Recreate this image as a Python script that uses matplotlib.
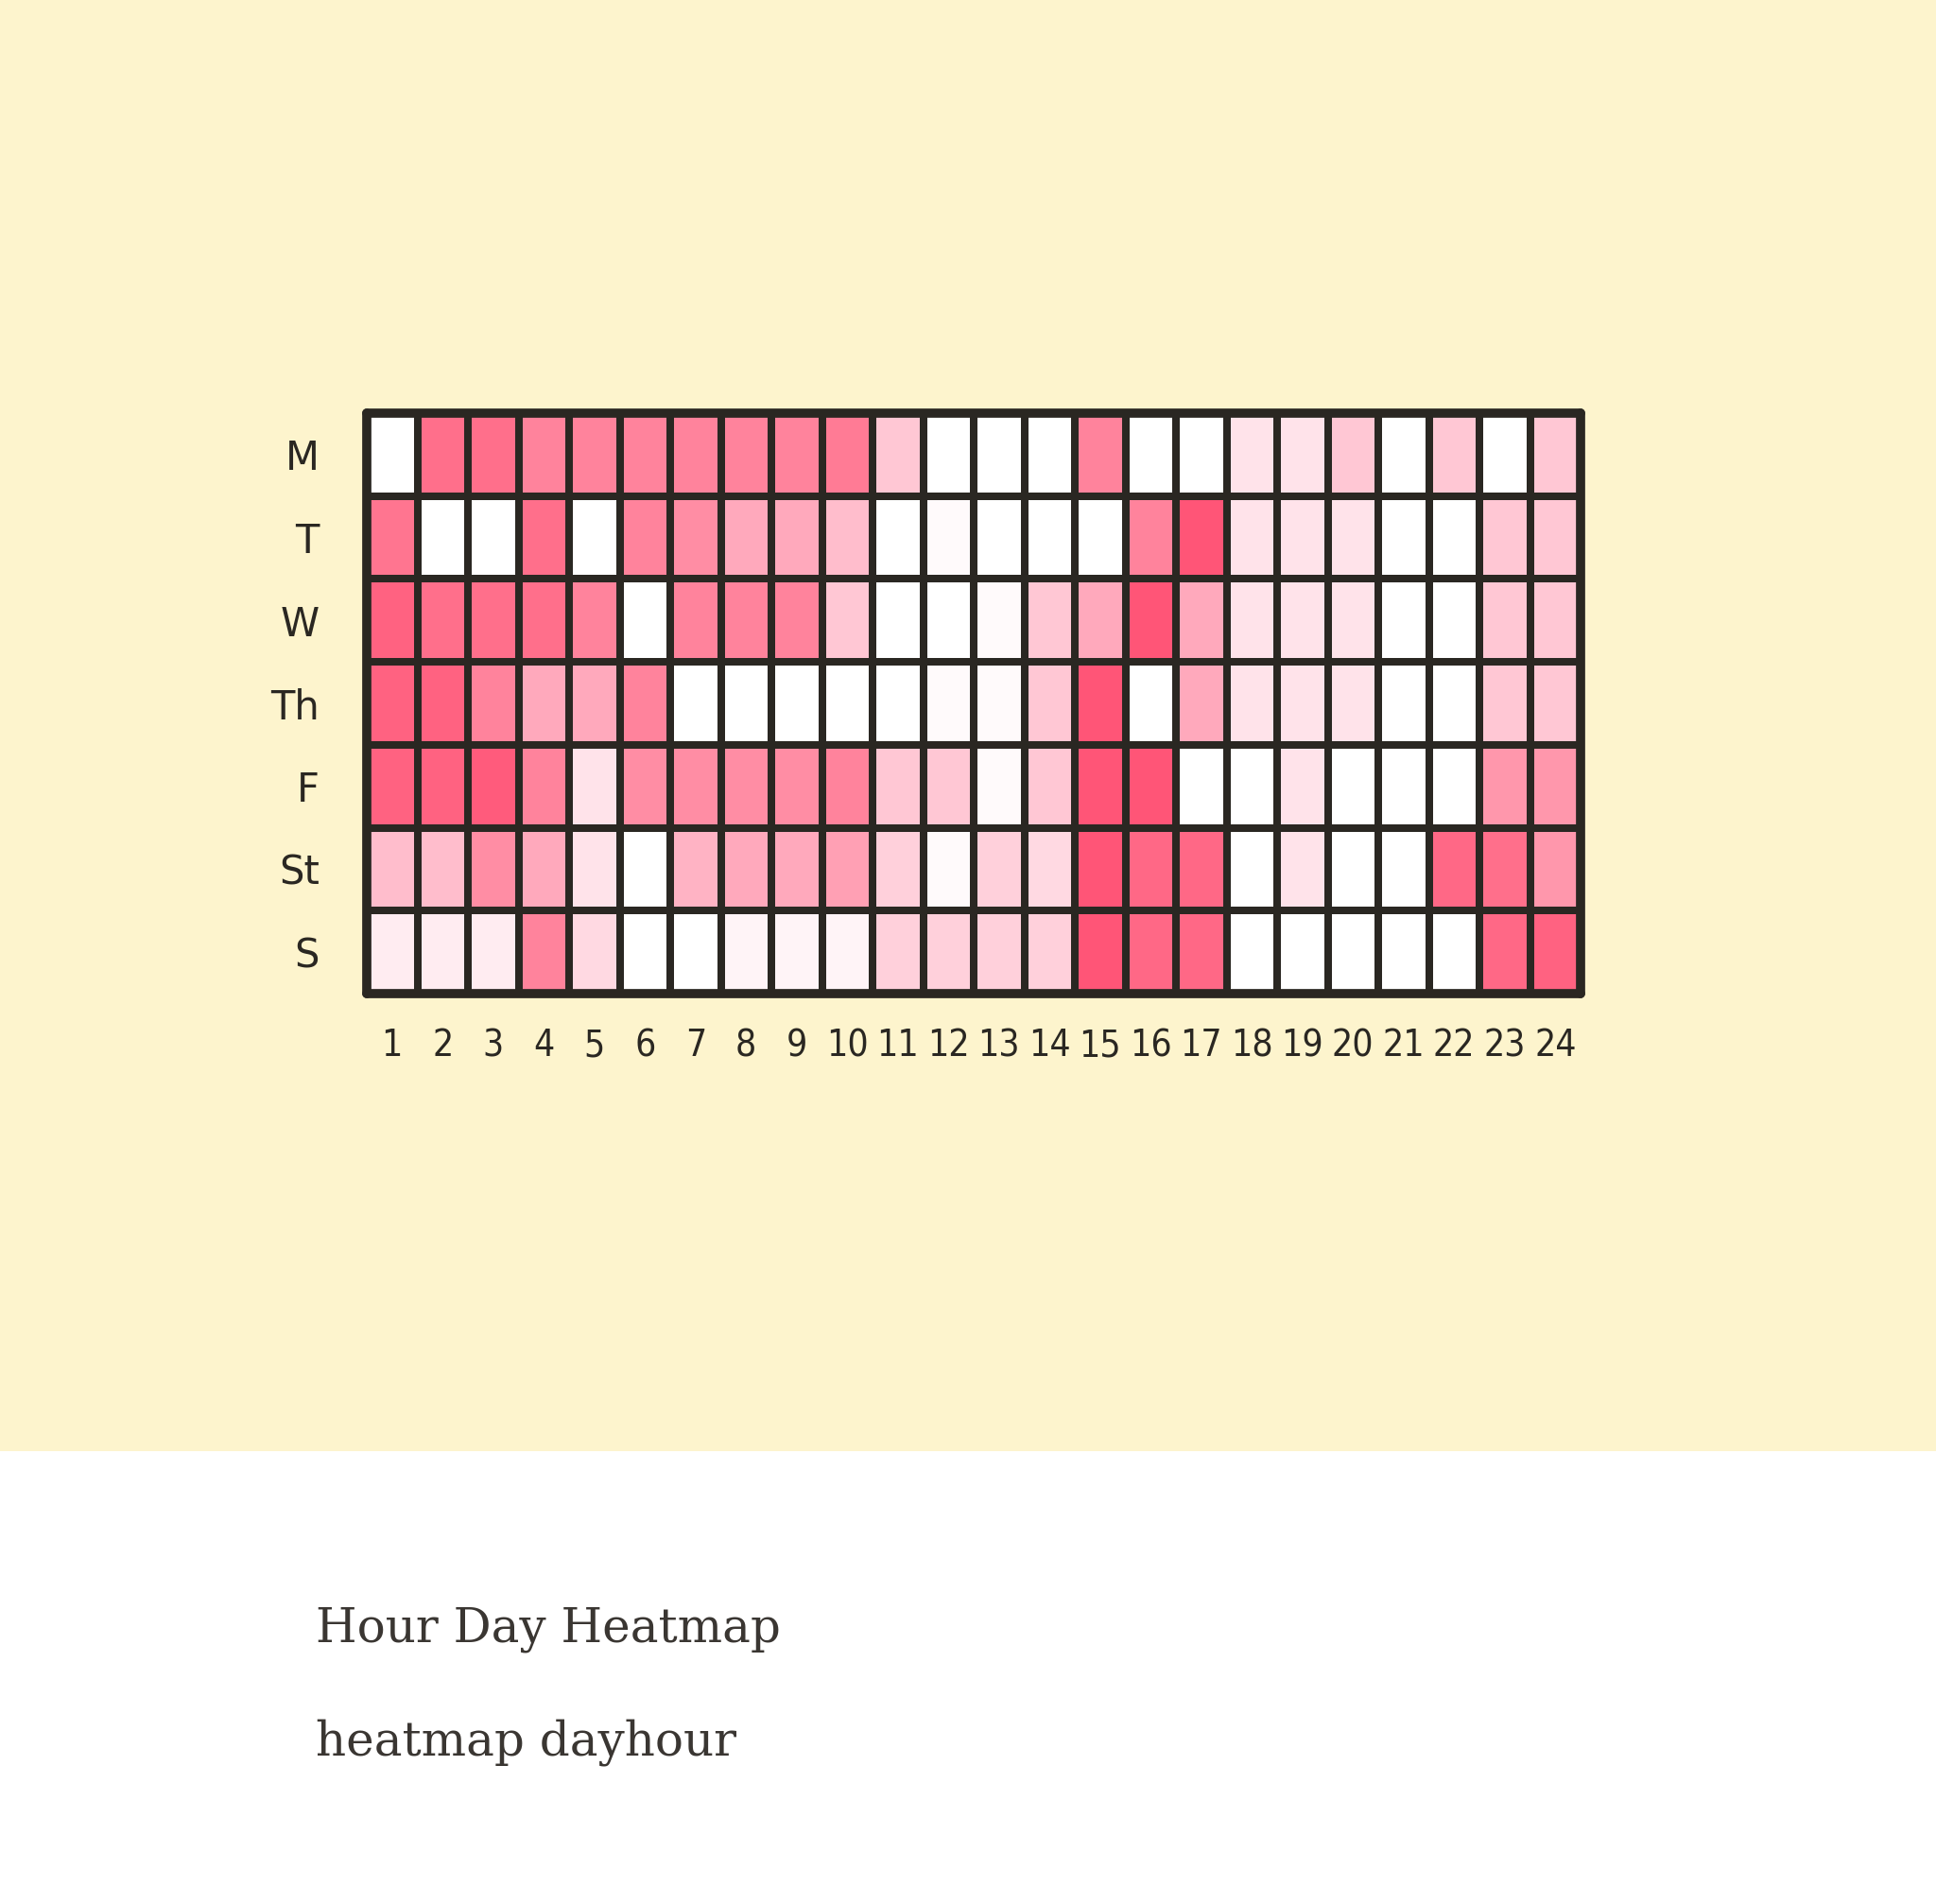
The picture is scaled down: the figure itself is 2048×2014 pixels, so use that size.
import matplotlib
matplotlib.use('Agg')
import matplotlib.pyplot as plt
from matplotlib.colors import LinearSegmentedColormap
from matplotlib.patches import Rectangle
import numpy as np

days = ['M', 'T', 'W', 'Th', 'F', 'St', 'S']
hours = [str(h) for h in range(1, 25)]

# intensity per day, hours 1..24 (0 = none, 10 = busiest)
mon = [0, 8, 8, 6.5, 6.5, 6.5, 6.5, 6.5, 6.5, 7, 3, 0, 0, 0, 6.5, 0, 0, 1.5, 1.5, 3, 0, 3, 0, 3]
tue = [7.5, 0, 0, 8, 0, 6.5, 6, 4.5, 4.5, 3.5, 0, 0.3, 0, 0, 0, 6.5, 10, 1.5, 1.5, 1.5, 0, 0, 3, 3]
wed = [9, 8, 8, 8, 6.5, 0, 6.5, 6.5, 6.5, 3, 0, 0, 0.3, 3, 4.5, 10, 4.5, 1.5, 1.5, 1.5, 0, 0, 3, 3]
thu = [9, 9, 6.5, 4.5, 4.5, 6.5, 0, 0, 0, 0, 0, 0.3, 0.3, 3, 10, 0, 4.5, 1.5, 1.5, 1.5, 0, 0, 3, 3]
fri = [9, 9, 9.5, 6.5, 1.5, 6, 6, 6, 6, 6.5, 3, 3, 0.3, 3, 10, 10, 0, 0, 1.5, 0, 0, 0, 5.5, 5.5]
sat = [3.5, 3.5, 6, 4.5, 1.5, 0, 4, 4.5, 4.5, 5, 2.5, 0.3, 2.5, 2, 10, 8.5, 8.5, 0, 1.5, 0, 0, 8.5, 8, 5.5]
sun = [1, 1, 1, 6.5, 2, 0, 0, 0.6, 0.6, 0.6, 2.5, 2.5, 2.5, 2.5, 10, 8.5, 8.5, 0, 0, 0, 0, 0, 8.5, 9]

title = 'Hour Day Heatmap'
subtitle = 'heatmap dayhour'

cream = '#fdf4cd'
ink = '#2a2722'
cmap = LinearSegmentedColormap.from_list('pinks', ['#ffffff', '#ffc0cf', '#ff8099', '#ff5577'])

fig = plt.figure(figsize=(20.48, 20.14), dpi=100, facecolor='white')
fig.patches.append(Rectangle((0, 1 - 1535 / 2014), 1, 1535 / 2014, transform=fig.transFigure,
                             facecolor=cream, edgecolor='none', zorder=-10))

ax = fig.add_axes([388 / 2048, 1 - 1051 / 2014, (1672 - 388) / 2048, (1051 - 437) / 2014])
data = np.array([mon, tue, wed, thu, fri, sat, sun])
ax.pcolormesh(data, cmap=cmap, vmin=0, vmax=10, edgecolors=ink, linewidth=4.5)
ax.set_xlim(0, len(hours))
ax.set_ylim(len(days), 0)

for s in ax.spines.values():
    s.set_linewidth(7)
    s.set_color(ink)
    s.set_capstyle('round')

ax.set_xticks(np.arange(len(hours)) + 0.5)
ax.set_xticklabels(hours, fontsize=28, color=ink, fontstretch='condensed')
ax.set_yticks(np.arange(len(days)) + 0.5)
ax.set_yticklabels(days, fontsize=30, color=ink)
ax.tick_params(length=0, pad=26)
ax.tick_params(axis='y', pad=36)

fig.text(334 / 2048, 1 - 1737 / 2014, title, family='DejaVu Serif', fontsize=36,
         color='#3a3632', va='baseline')
fig.text(334 / 2048, 1 - 1857 / 2014, subtitle, family='DejaVu Serif', fontsize=36,
         color='#3a3632', va='baseline')

fig.savefig('out.png', dpi=100, facecolor=fig.get_facecolor())
